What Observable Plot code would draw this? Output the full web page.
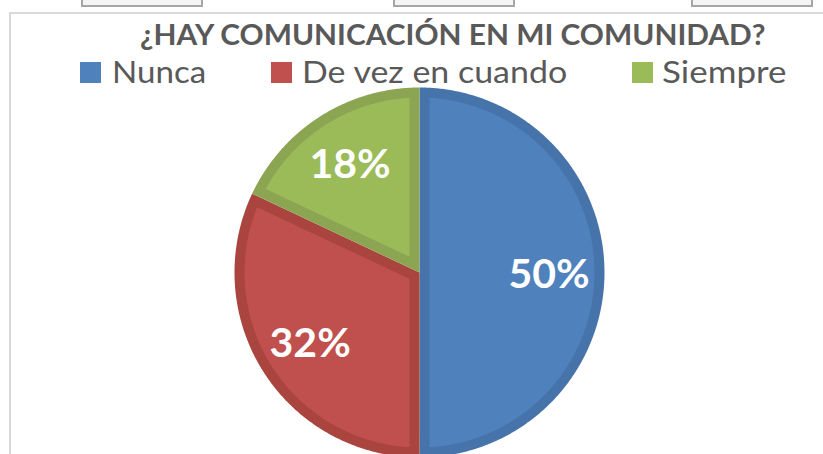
<!DOCTYPE html>
<html><head><meta charset="utf-8">
<script src="https://cdn.jsdelivr.net/npm/d3@7"></script>
<script src="https://cdn.jsdelivr.net/npm/@observablehq/plot@0.6"></script>
<style>
html,body{margin:0;padding:0;background:#fff;overflow:hidden}
#wrap{position:relative;width:823px;height:454px;overflow:hidden;background:#fff;font-family:Lato,"Open Sans",sans-serif}
#header{position:relative;height:85px}
.box{position:absolute;top:-10px;height:17px;box-sizing:border-box;border:2px solid #a6a6a6;background:#f4f4f4}
#frameTop{position:absolute;left:9px;top:12px;right:0;height:2px;background:#d9d9d9}
#frameLeft{position:absolute;left:9px;top:12px;bottom:0;width:2px;background:#d9d9d9}
.fit{position:absolute;white-space:nowrap;line-height:0.9;transform-origin:0 0;color:#595959}
#title{font-weight:700;font-size:28px;left:140px;top:22px}
.sw{position:absolute;top:62px;width:21px;height:21px}
.lg{font-size:31px;top:58px}
#chart{position:absolute;left:0;top:85px}
</style></head>
<body><div id="wrap">
<div id="header"></div>
<div id="chart"></div>
<div id="frameTop"></div><div id="frameLeft"></div>
</div>
<script>
const title = "¿HAY COMUNICACIÓN EN MI COMUNIDAD?";
const categories = ["Nunca", "De vez en cuando", "Siempre"];
const values = [50, 32, 18];
const labels = ["50%", "32%", "18%"];
const fillColors = ["#4f81bd", "#c0504d", "#9bbb59"];
const edgeColors = ["#4673aa", "#a9443f", "#8ba553"];

// layout
const cx = 419, cy = 187, R = 185, inset = 10;
const legendX = [80, 271, 632];
const legendTextX = [112, 302, 662];
const legendTextW = [94, 265, 124];
const boxes = [[81, 122], [393, 122], [691, 122]];

const header = document.getElementById("header");
const wrap = document.getElementById("wrap");
boxes.forEach(([l, w]) => {
  const b = document.createElement("div");
  b.className = "box"; b.style.left = l + "px"; b.style.width = w + "px";
  wrap.appendChild(b);
});
const t = document.createElement("div");
t.id = "title"; t.className = "fit"; t.textContent = title; t.dataset.w = 626;
header.appendChild(t);
categories.forEach((c, i) => {
  const s = document.createElement("div");
  s.className = "sw"; s.style.left = legendX[i] + "px"; s.style.background = fillColors[i];
  header.appendChild(s);
  const l = document.createElement("div");
  l.className = "fit lg"; l.style.left = legendTextX[i] + "px"; l.textContent = c; l.dataset.w = legendTextW[i];
  header.appendChild(l);
});
function fit() {
  document.querySelectorAll(".fit").forEach(el => {
    el.style.transform = "none";
    const w = el.offsetWidth;
    if (w > 0) el.style.transform = `scaleX(${el.dataset.w / w})`;
  });
}
fit();
if (document.fonts && document.fonts.ready) document.fonts.ready.then(fit);

// pie geometry from data
const arcs = d3.pie().sort(null).value(d => d)(values);
const d = inset / R;
const step = Math.PI / 360;
function outerPts(a0, a1) {
  const pts = [{x: 0, y: 0}];
  const n = Math.max(2, Math.ceil((a1 - a0) / step));
  for (let i = 0; i <= n; i++) { const a = a0 + (a1 - a0) * i / n; pts.push({x: Math.sin(a), y: Math.cos(a)}); }
  return pts;
}
function innerPts(a0, a1) {
  const h = (a1 - a0) / 2, m = (a0 + a1) / 2;
  const k = d / Math.sin(h);
  const rr = 1 - d, da = Math.asin(d / rr);
  const pts = [{x: k * Math.sin(m), y: k * Math.cos(m)}];
  const b0 = a0 + da, b1 = a1 - da;
  const n = Math.max(2, Math.ceil((b1 - b0) / step));
  for (let i = 0; i <= n; i++) { const a = b0 + (b1 - b0) * i / n; pts.push({x: rr * Math.sin(a), y: rr * Math.cos(a)}); }
  return pts;
}
const labelData = arcs.map((a, i) => {
  const m = (a.startAngle + a.endAngle) / 2;
  return {x: 0.7 * Math.sin(m), y: 0.7 * Math.cos(m), text: labels[i]};
});
const marks = [];
arcs.forEach((a, i) => {
  marks.push(Plot.line(outerPts(a.startAngle, a.endAngle), {x: "x", y: "y", fill: edgeColors[i], stroke: "none"}));
  marks.push(Plot.line(innerPts(a.startAngle, a.endAngle), {x: "x", y: "y", fill: fillColors[i], stroke: "none"}));
});
marks.push(Plot.text(labelData, {x: "x", y: "y", text: "text", fill: "white", fontSize: 41, fontWeight: "bold", fontFamily: "Lato, 'Open Sans', sans-serif", dy: 2}));

const chart = Plot.plot({
  width: 823, height: 380, margin: 0,
  x: {domain: [-1, 1], range: [cx - R, cx + R], axis: null},
  y: {domain: [-1, 1], range: [cy + R, cy - R], axis: null},
  style: {background: "transparent"},
  marks
});
document.getElementById("chart").appendChild(chart);
</script>
</body></html>
